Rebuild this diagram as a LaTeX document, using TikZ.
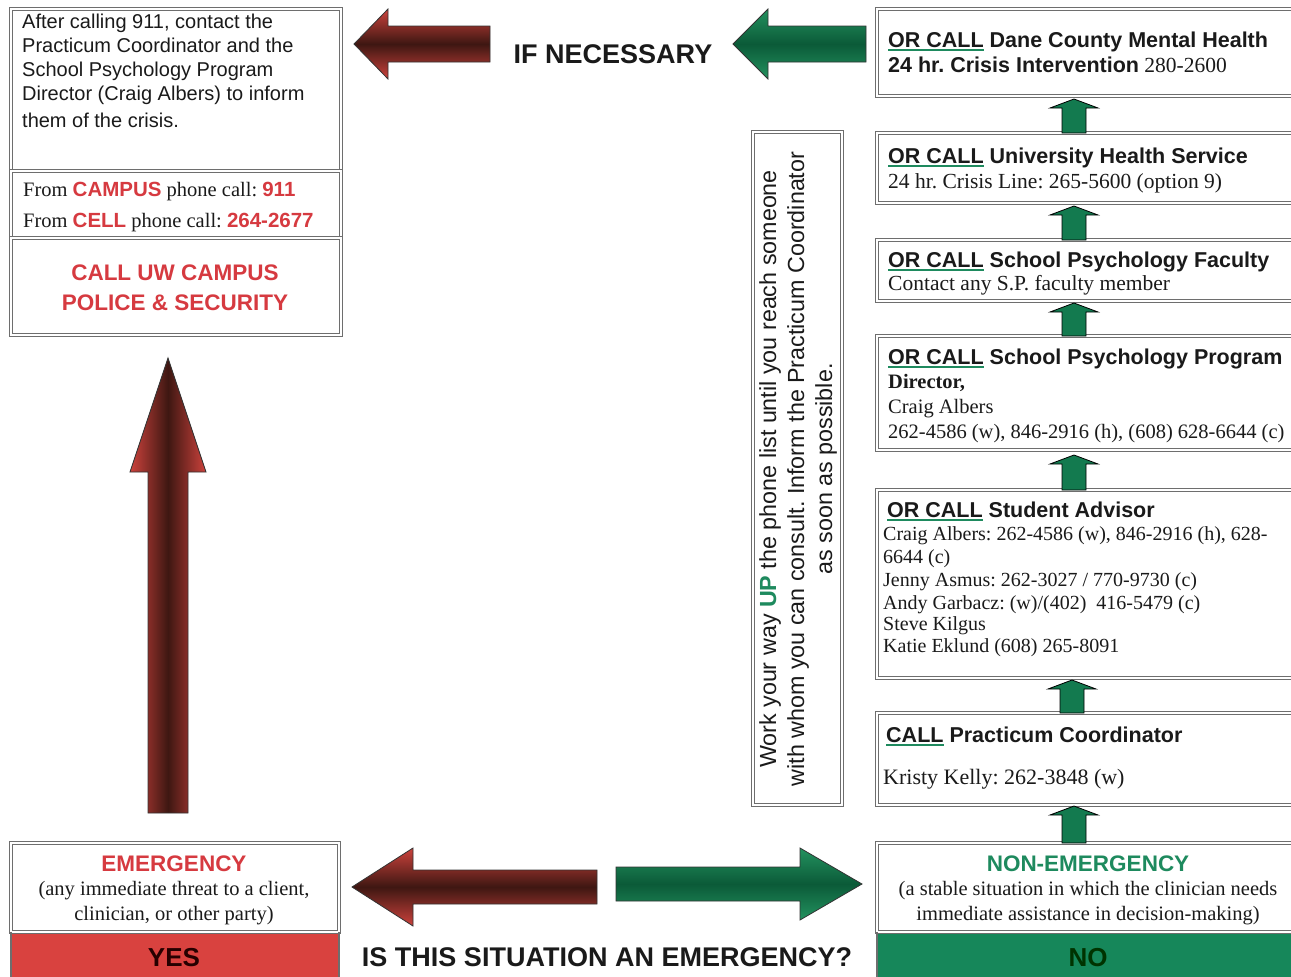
\documentclass[tikz,border=0pt]{standalone}
\usepackage{fontspec}
\setmainfont{Liberation Serif}
\setsansfont{Liberation Sans}
\usetikzlibrary{calc}
\definecolor{txtred}{HTML}{D63A40}
\definecolor{txtblack}{HTML}{1A1A1A}
\definecolor{ocgreen}{HTML}{1E8A5E}
\definecolor{boxgray}{HTML}{6E6E6E}
\definecolor{yesred}{HTML}{D9423F}
\definecolor{nogreen}{HTML}{16875A}
\definecolor{arrdark}{HTML}{3E1712}
\definecolor{arrred}{HTML}{CC423C}
\definecolor{grdark}{HTML}{0B5A38}
\definecolor{grlight}{HTML}{23925F}
\definecolor{grsmall}{HTML}{137A4F}
\newsavebox\ulbox
\newcommand\orcall[1]{\sbox\ulbox{#1}\textcolor{ocgreen}{\rlap{\rule[-3.5pt]{\wd\ulbox}{1.8pt}}\usebox\ulbox}}
\newcommand\sz[1]{\fontsize{#1}{#1}\selectfont}
% horizontal block arrow: tip x, tail x, head-base x, centre y, head half, shaft half, style
\newcommand\hblk[7]{\path[#7] (#1,#4) -- (#3,#4-#5) -- (#3,#4-#6) -- (#2,#4-#6) -- (#2,#4+#6) -- (#3,#4+#6) -- (#3,#4+#5) -- cycle;}
% vertical block arrow: tip y, tail y, head-base y, centre x, head half, shaft half, style
\newcommand\vblk[7]{\path[#7] (#4,#1) -- (#4+#5,#3) -- (#4+#6,#3) -- (#4+#6,#2) -- (#4-#6,#2) -- (#4-#6,#3) -- (#4-#5,#3) -- cycle;}
\frenchspacing
\begin{document}
\begin{tikzpicture}[x=1pt,y=-1pt,
  boxframe/.style={draw=boxgray, line width=1.1pt, double=white, double distance=1.4pt},
  lbl/.style={inner sep=0pt, anchor=base west, text=txtblack},
  ctr/.style={inner sep=0pt, anchor=base, text=txtblack},
  arrline/.style={draw=black!80, line width=0.8pt},
  smallgreen/.style={fill=grsmall, draw=black, line width=0.8pt}]
\clip (0,0) rectangle (1291,977);
\fill[white] (0,0) rectangle (1291,977);

% ---------- left column ----------
\path[boxframe] (11,9) rectangle (341,171);
\path[boxframe] (11,171) rectangle (341,238);
\path[boxframe] (11,238) rectangle (341,335);
\node[lbl, font=\sffamily\sz{20}] (after1) at (22,28) {After calling 911, contact the};
\node[lbl, font=\sffamily\sz{20}] (after2) at (22,52) {Practicum Coordinator and the};
\node[lbl, font=\sffamily\sz{20}] (after3) at (22,76) {School Psychology Program};
\node[lbl, font=\sffamily\sz{20}] (after4) at (22,100) {Director (Craig Albers) to inform};
\node[lbl, font=\sffamily\sz{20}] (after5) at (22,127) {them of the crisis.};
\node[lbl, font=\rmfamily\sz{20.5}] (fromcampus) at (23,196) {From {\sffamily\bfseries\color{txtred}CAMPUS} phone call: {\sffamily\bfseries\color{txtred}911}};
\node[lbl, font=\rmfamily\sz{20.5}] (fromcell) at (23,227) {From {\sffamily\bfseries\color{txtred}CELL} phone call: {\sffamily\bfseries\color{txtred}264-2677}};
\node[ctr, font=\sffamily\bfseries\sz{22.5}, text=txtred] (police1) at (175,280) {CALL UW CAMPUS};
\node[ctr, font=\sffamily\bfseries\sz{22.5}, text=txtred] (police2) at (175,310) {POLICE \& SECURITY};

% big red up arrow
\vblk{358}{813}{472}{168}{38}{20}{arrline, left color=arrred, right color=arrred, middle color=arrdark}

% emergency box
\fill[yesred] (11,932) rectangle (339,980);
\path[boxframe] (11,843) rectangle (339,932);
\draw[boxgray, line width=1.6pt] (11,932) -- (11,980) (339,932) -- (339,980);
\node[ctr, font=\sffamily\bfseries\sz{22.5}, text=txtred] (emerg) at (174,871) {EMERGENCY};
\node[ctr, font=\rmfamily\sz{20.5}] (emerg2) at (174,895) {(any immediate threat to a client,};
\node[ctr, font=\rmfamily\sz{20.5}] (emerg3) at (174,920) {clinician, or other party)};
\node[ctr, font=\sffamily\bfseries\sz{26}, text=black!85!red] (yes) at (174,966) {YES};

% ---------- top arrows ----------
\hblk{354}{490}{388}{44}{35}{18}{arrline, top color=arrred, bottom color=arrred, middle color=arrdark}
\node[ctr, font=\sffamily\bfseries\sz{27}] (ifnec) at (613,63) {IF NECESSARY};
\hblk{733}{866}{768}{44}{35}{18}{arrline, top color=grlight, bottom color=grlight, middle color=grdark}

% ---------- bottom arrows ----------
\hblk{352}{597}{413}{887}{39}{17}{arrline, top color=arrred, bottom color=arrred, middle color=arrdark}
\hblk{862}{616}{800}{884}{36}{17}{arrline, top color=grlight, bottom color=grlight, middle color=grdark}
\node[ctr, font=\sffamily\bfseries\sz{27}] (question) at (607,966) {IS THIS SITUATION AN EMERGENCY?};

% ---------- vertical instruction box ----------
\path[boxframe] (753,132) rectangle (842,805);
\node[rotate=90, align=center, inner sep=0pt, text=txtblack, font=\sffamily\fontsize{23.3}{28}\selectfont] (work) at (798,469)
  {Work your way \textcolor{ocgreen}{\bfseries UP} the phone list until you reach someone\\with whom you can consult. Inform the Practicum Coordinator\\as soon as possible.};

% ---------- right column ----------
\path[boxframe] (877,9) rectangle (1310,96);
\node[lbl, font=\sffamily\bfseries\sz{21.5}] (dane1) at (888,47) {\orcall{OR CALL} Dane County Mental Health};
\node[lbl, font=\rmfamily\sz{21.5}] (dane2) at (888,72) {{\sffamily\bfseries 24 hr. Crisis Intervention} 280-2600};

\path[boxframe] (877,133) rectangle (1310,203);
\node[lbl, font=\sffamily\bfseries\sz{21.5}] (uhs1) at (888,163) {\orcall{OR CALL} University Health Service};
\node[lbl, font=\rmfamily\sz{21.5}] (uhs2) at (888,188) {24 hr. Crisis Line: 265-5600 (option 9)};

\path[boxframe] (877,240) rectangle (1310,301);
\node[lbl, font=\sffamily\bfseries\sz{21.5}] (fac1) at (888,267) {\orcall{OR CALL} School Psychology Faculty};
\node[lbl, font=\rmfamily\sz{21.5}] (fac2) at (888,290) {Contact any S.P. faculty member};

\path[boxframe] (877,336) rectangle (1310,450);
\node[lbl, font=\sffamily\bfseries\sz{21.5}] (dir1) at (888,364) {\orcall{OR CALL} School Psychology Program};
\node[lbl, font=\rmfamily\bfseries\sz{20.5}] (dir2) at (888,388) {Director,};
\node[lbl, font=\rmfamily\sz{20.5}] (dir3) at (888,413) {Craig Albers};
\node[lbl, font=\rmfamily\sz{20.5}] (dir4) at (888,438) {262-4586 (w), 846-2916 (h), (608) 628-6644 (c)};

\path[boxframe] (877,490) rectangle (1310,678);
\node[lbl, font=\sffamily\bfseries\sz{21.5}] (adv1) at (887,517) {\orcall{OR CALL} Student Advisor};
\node[lbl, font=\rmfamily\sz{20}] (adv2) at (883,540) {Craig Albers: 262-4586 (w), 846-2916 (h), 628-};
\node[lbl, font=\rmfamily\sz{20}] (adv3) at (883,563) {6644 (c)};
\node[lbl, font=\rmfamily\sz{20}] (adv4) at (883,586) {Jenny Asmus: 262-3027 / 770-9730 (c)};
\node[lbl, font=\rmfamily\sz{20}] (adv5) at (883,609) {Andy Garbacz: (w)/(402)\ \ 416-5479 (c)};
\node[lbl, font=\rmfamily\sz{20}] (adv6) at (883,630) {Steve Kilgus};
\node[lbl, font=\rmfamily\sz{20}] (adv7) at (883,652) {Katie Eklund (608) 265-8091};

\path[boxframe] (877,713) rectangle (1310,805);
\node[lbl, font=\sffamily\bfseries\sz{21.5}] (prac1) at (886,742) {\orcall{CALL} Practicum Coordinator};
\node[lbl, font=\rmfamily\sz{22}] (prac2) at (883,784) {Kristy Kelly: 262-3848 (w)};

\fill[nogreen] (877,932) rectangle (1310,980);
\path[boxframe] (877,843) rectangle (1310,932);
\draw[boxgray, line width=1.6pt] (877,932) -- (877,980);
\node[ctr, font=\sffamily\bfseries\sz{22.5}, text=ocgreen] (nonemerg) at (1088,871) {NON-EMERGENCY};
\node[ctr, font=\rmfamily\sz{20.5}] (nonemerg2) at (1088,895) {(a stable situation in which the clinician needs};
\node[ctr, font=\rmfamily\sz{20.5}] (nonemerg3) at (1088,920) {immediate assistance in decision-making)};
\node[ctr, font=\sffamily\bfseries\sz{26}, text=black!80!green] (no) at (1088,966) {NO};

% small green up arrows between boxes
\vblk{99}{133}{108}{1074}{24}{12}{smallgreen}
\vblk{206}{240}{215}{1074}{24}{12}{smallgreen}
\vblk{303}{336}{312}{1074}{24}{12}{smallgreen}
\vblk{455}{490}{464}{1074}{24}{12}{smallgreen}
\vblk{680}{713}{689}{1072}{24}{12}{smallgreen}
\vblk{806}{843}{815}{1074}{24}{12}{smallgreen}
\end{tikzpicture}
\end{document}
